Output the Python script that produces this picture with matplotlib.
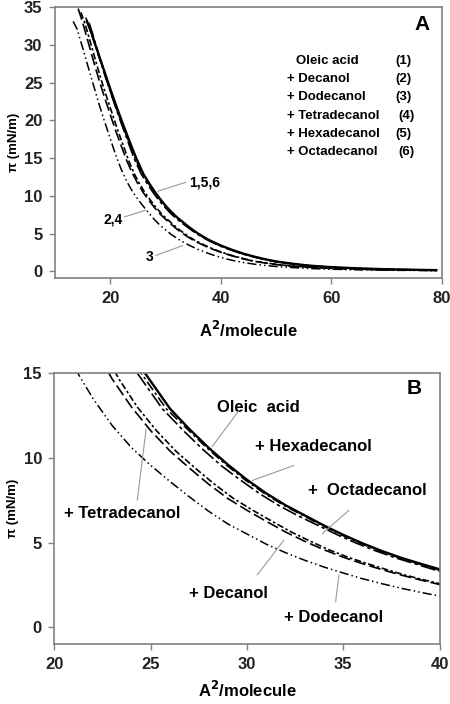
import numpy as np
import matplotlib
matplotlib.use("Agg")
import matplotlib.pyplot as plt

plt.rcParams["font.family"] = ["Liberation Sans", "DejaVu Sans"]
plt.rcParams["font.weight"] = "bold"

# ---- isotherm data (area in A^2/molecule, pi in mN/m) ----
# (1) oleic acid
oleic_x = [15.8, 16.6, 17.5, 18.8, 20.0, 21.0, 22.2, 23.4, 24.7, 26.0, 27.0, 28.0, 29.0,
           30.0, 31.0, 32.0, 33.0, 34.0, 35.0, 36.0, 37.0, 38.0, 39.0, 40.0, 42.0, 44.0,
           46.0, 48.0, 50.0, 53.0, 56.0, 60.0, 65.0, 70.0, 75.0, 79.0]
oleic_y = [33.1, 31.6, 29.6, 26.8, 24.2, 22.1, 19.7, 17.4, 15.0, 12.9, 11.7, 10.6, 9.6,
           8.7, 7.9, 7.2, 6.6, 6.0, 5.45, 4.95, 4.5, 4.1, 3.75, 3.42, 2.85, 2.35,
           1.95, 1.6, 1.3, 1.0, 0.75, 0.55, 0.38, 0.27, 0.2, 0.15]

# (2) + decanol
decanol_x = [14.2, 15.0, 16.0, 17.0, 18.0, 19.0, 20.0, 21.0, 22.0, 23.0, 24.0, 25.0, 26.0,
             27.0, 28.0, 29.0, 30.0, 31.0, 32.0, 33.0, 34.0, 35.0, 36.0, 37.0, 38.0, 39.0,
             40.0, 42.0, 44.0, 46.0, 48.0, 50.0, 53.0, 56.0, 60.0, 65.0, 70.0, 75.0, 79.0]
decanol_y = [34.8, 33.0, 30.4, 27.8, 25.3, 23.0, 20.8, 18.6, 16.6, 14.65, 13.0, 11.6, 10.4,
             9.4, 8.45, 7.6, 6.9, 6.25, 5.62, 5.07, 4.57, 4.13, 3.75, 3.4, 3.08, 2.79,
             2.52, 2.05, 1.66, 1.32, 1.1, 0.9, 0.68, 0.53, 0.38, 0.27, 0.2, 0.15, 0.12]

# (3) + dodecanol
dodecanol_x = [13.3, 14.0, 15.0, 16.0, 17.0, 18.0, 19.0, 20.0, 21.0, 22.0, 23.0, 24.0, 25.0,
               26.0, 27.0, 28.0, 29.0, 30.0, 31.0, 32.0, 33.0, 34.0, 35.0, 36.0, 37.0, 38.0,
               39.0, 40.0, 42.0, 44.0, 46.0, 48.0, 50.0, 53.0, 56.0, 60.0, 65.0, 70.0, 75.0, 79.0]
dodecanol_y = [33.1, 32.1, 29.65, 27.1, 24.6, 22.1, 19.8, 17.6, 15.4, 13.5, 11.9, 10.6, 9.55,
               8.6, 7.7, 6.85, 6.1, 5.5, 4.9, 4.4, 3.95, 3.55, 3.2, 2.86, 2.57, 2.3,
               2.06, 1.84, 1.46, 1.17, 0.95, 0.77, 0.64, 0.49, 0.37, 0.27, 0.19, 0.14, 0.11, 0.09]

# (4) + tetradecanol
tetradecanol_x = [14.7, 15.4, 16.4, 17.4, 18.4, 19.4, 20.4, 21.4, 22.4, 23.35, 24.3, 25.3, 26.3,
                  27.3, 28.3, 29.3, 30.3, 31.3, 32.3, 33.3, 34.25, 35.25, 36.25, 37.25, 38.2,
                  39.2, 40.2, 42.2, 44.2, 46.2, 48.2, 50.2, 53.0, 56.0, 60.0, 65.0, 70.0, 75.0, 79.0]
tetradecanol_y = [34.3, 32.9, 30.4, 27.8, 25.3, 23.0, 20.8, 18.6, 16.6, 14.65, 13.0, 11.6, 10.4,
                  9.4, 8.45, 7.6, 6.9, 6.25, 5.62, 5.07, 4.57, 4.13, 3.75, 3.4, 3.08,
                  2.79, 2.52, 2.05, 1.66, 1.32, 1.1, 0.9, 0.7, 0.54, 0.39, 0.28, 0.2, 0.15, 0.12]

# (5) + hexadecanol
hexadecanol_x = [15.6, 16.5, 17.4, 18.6, 19.8, 20.9, 22.0, 23.2, 24.5, 25.8, 26.9, 27.9, 28.9,
                 29.9, 30.9, 31.9, 32.9, 33.9, 34.9, 35.9, 36.9, 37.9, 38.9, 39.9, 41.9, 43.9,
                 45.9, 47.9, 49.9, 53.0, 56.0, 60.0, 65.0, 70.0, 75.0, 79.0]
hexadecanol_y = [33.6, 31.7, 29.7, 27.0, 24.3, 22.1, 19.8, 17.5, 15.0, 12.9, 11.7, 10.6, 9.6,
                 8.7, 7.9, 7.2, 6.6, 6.0, 5.45, 4.95, 4.5, 4.1, 3.75, 3.4, 2.85, 2.35,
                 1.95, 1.6, 1.3, 0.98, 0.74, 0.54, 0.37, 0.26, 0.19, 0.14]

# (6) + octadecanol
octadecanol_x = [16.2, 16.8, 17.6, 18.7, 19.8, 20.8, 21.9, 23.1, 24.3, 25.6, 26.7, 27.7, 28.7,
                 29.7, 30.7, 31.7, 32.7, 33.7, 34.7, 35.7, 36.7, 37.7, 38.7, 39.7, 41.7, 43.7,
                 45.7, 47.7, 49.7, 53.0, 56.0, 60.0, 65.0, 70.0, 75.0, 79.0]
octadecanol_y = [32.9, 31.5, 29.5, 26.8, 24.3, 22.1, 19.8, 17.4, 15.0, 12.9, 11.6, 10.5, 9.5,
                 8.65, 7.85, 7.15, 6.55, 6.0, 5.45, 4.95, 4.5, 4.1, 3.75, 3.4, 2.85, 2.35,
                 1.95, 1.6, 1.3, 0.97, 0.73, 0.53, 0.36, 0.26, 0.19, 0.14]

legend_names = ["Oleic acid", "+ Decanol", "+ Dodecanol", "+ Tetradecanol",
                "+ Hexadecanol", "+ Octadecanol"]
legend_nums = ["(1)", "(2)", "(3)", "(4)", "(5)", "(6)"]

curves = [
    (oleic_x, oleic_y, "-", 1.7),
    (decanol_x, decanol_y, (0, (7, 2.5)), 1.2),
    (dodecanol_x, dodecanol_y, (0, (6, 2, 1, 2, 1, 2)), 1.1),
    (tetradecanol_x, tetradecanol_y, (0, (4, 1.5, 1.5, 1.5)), 1.2),
    (hexadecanol_x, hexadecanol_y, (0, (6, 2, 1.5, 2)), 1.2),
    (octadecanol_x, octadecanol_y, (0, (9, 2, 2, 2)), 1.2),
]

frame_col = "#808080"
lead_col = "#9a9a9a"


def style_axes(ax):
    for sp in ax.spines.values():
        sp.set_color(frame_col)
        sp.set_linewidth(1.2)
    ax.tick_params(direction="out", length=4, width=1, color=frame_col,
                   labelsize=12, pad=5)
    for lab in ax.get_xticklabels() + ax.get_yticklabels():
        lab.set_fontweight("bold")
        lab.set_color("#222222")


def leader(ax, start, end):
    ax.annotate("", xy=end, xytext=start,
                arrowprops=dict(arrowstyle="-", color=lead_col, lw=0.8,
                                shrinkA=0, shrinkB=0))


fig = plt.figure(figsize=(4.5, 7.04), dpi=100)
axA = fig.add_axes([0.122, 0.605, 0.860, 0.385])
axB = fig.add_axes([0.121, 0.085, 0.856, 0.385])

for ax in (axA, axB):
    for xs, ys, ls, lw in curves:
        ax.plot(xs, ys, color="black", linestyle=ls, lw=lw)

# ---- panel A ----
axA.set_xlim(10, 80)
axA.set_ylim(-0.9, 35)
axA.set_xticks([20, 40, 60, 80])
axA.set_yticks(np.arange(0, 36, 5))
style_axes(axA)
axA.set_xlabel(r"A$^{\mathbf{2}}$/molecule", fontsize=12, fontweight="bold",
               labelpad=10)
axA.set_ylabel("π (mN/m)", fontsize=9.5, fontweight="bold", labelpad=3)
axA.text(0.948, 0.937, "A", transform=axA.transAxes, fontsize=15,
         fontweight="bold", ha="center", va="center")

rows = [0.801, 0.733, 0.667, 0.599, 0.532, 0.465]
for i, (nm, num) in enumerate(zip(legend_names, legend_nums)):
    x0 = 0.624 if i == 0 else 0.599
    axA.text(x0, rows[i], nm, transform=axA.transAxes, fontsize=9.5,
             fontweight="bold", ha="left", va="center")
    xn = 0.908 if num in ("(4)", "(6)") else 0.900
    axA.text(xn, rows[i], num, transform=axA.transAxes, fontsize=9.5,
             fontweight="bold", ha="center", va="center")

axA.text(37.1, 11.8, "1,5,6", fontsize=10, fontweight="bold", ha="center", va="center")
leader(axA, (33.7, 11.8), (28.6, 10.6))
axA.text(20.6, 6.8, "2,4", fontsize=10, fontweight="bold", ha="center", va="center")
leader(axA, (22.6, 7.2), (26.4, 8.1))
axA.text(27.2, 1.9, "3", fontsize=10, fontweight="bold", ha="center", va="center")
leader(axA, (28.25, 2.1), (33.1, 3.4))

# ---- panel B ----
axB.set_xlim(20, 40)
axB.set_ylim(-1, 15)
axB.set_xticks([20, 25, 30, 35, 40])
axB.set_yticks([0, 5, 10, 15])
style_axes(axB)
axB.set_xlabel(r"A$^{\mathbf{2}}$/molecule", fontsize=12, fontweight="bold",
               labelpad=6)
axB.set_ylabel("π (mN/m)", fontsize=9.5, fontweight="bold", labelpad=3)
axB.text(0.933, 0.944, "B", transform=axB.transAxes, fontsize=15,
         fontweight="bold", ha="center", va="center")

lab_kw = dict(fontsize=12, fontweight="bold", ha="center", va="center")
axB.text(30.6, 13.0, "Oleic  acid", **lab_kw)
leader(axB, (29.57, 12.78), (28.19, 10.66))
axB.text(33.45, 10.66, "+ Hexadecanol", **lab_kw)
leader(axB, (32.43, 9.55), (30.27, 8.66))
axB.text(36.24, 8.08, "+  Octadecanol", **lab_kw)
leader(axB, (35.29, 6.9), (33.91, 5.53))
axB.text(23.52, 6.74, "+ Tetradecanol", **lab_kw)
leader(axB, (24.3, 7.49), (24.76, 11.71))
axB.text(29.05, 2.0, "+ Decanol", **lab_kw)
leader(axB, (30.53, 3.08), (31.91, 5.14))
axB.text(34.51, 0.59, "+ Dodecanol", **lab_kw)
leader(axB, (34.6, 1.5), (34.77, 3.08))

fig.savefig("out.png", dpi=100, facecolor="white")
